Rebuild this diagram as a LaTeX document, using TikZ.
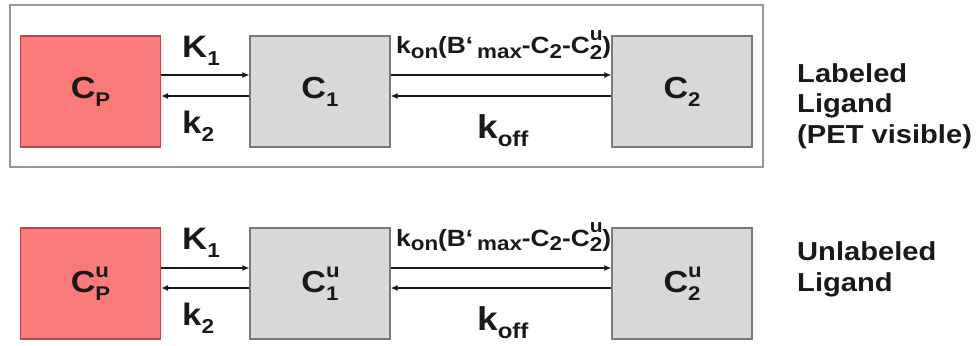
\documentclass[tikz,border=0pt]{standalone}
\usepackage{graphicx}
\usepackage{fontspec}
\setmainfont{Liberation Sans}[FakeStretch=1.12]
\usetikzlibrary{arrows.meta}
\newcommand\lo[1]{\raisebox{-0.5ex}{\scalebox{0.65}{#1}}}
\newcommand\ud[2]{\rlap{\raisebox{0.95ex}{\scalebox{0.65}{#1}}}\raisebox{-0.5ex}{\scalebox{0.65}{#2}}}
\newcommand\los[1]{\raisebox{-0.4ex}{\scalebox{0.85}{#1}}}
\newcommand\uds[2]{\rlap{\raisebox{1.1ex}{\scalebox{0.8}{#1}}}\raisebox{-0.45ex}{\scalebox{0.85}{#2}}}
\definecolor{pink}{RGB}{250,122,122}
\definecolor{pinkedge}{RGB}{190,70,70}
\definecolor{boxgray}{RGB}{216,216,216}
\definecolor{boxedge}{RGB}{120,120,120}
\definecolor{framegray}{RGB}{150,150,150}
\definecolor{ink}{RGB}{25,25,25}
\tikzset{
  comp/.style={draw=boxedge, fill=boxgray, line width=1.2pt, minimum width=140pt, minimum height=111pt, inner sep=0pt, font=\bfseries\fontsize{30.5}{34}\selectfont, text=ink},
  plasma/.style={comp, fill=pink, draw=pinkedge},
  arr/.style={draw=ink, line width=1.8pt, -{Latex[length=7pt,width=6pt]}},
  rate/.style={anchor=base west, inner sep=0pt, font=\bfseries\fontsize{31}{34}\selectfont, text=ink},
  ratebig/.style={rate, font=\bfseries\fontsize{33}{38}\selectfont},
  kon/.style={anchor=base west, inner sep=0pt, font=\bfseries\fontsize{23.5}{26}\selectfont, text=ink},
  side/.style={anchor=base west, inner sep=0pt, align=left, font=\bfseries\fontsize{26}{30.5}\selectfont, text=ink}
}
\begin{document}
\begin{tikzpicture}[x=1pt,y=-1pt]
\useasboundingbox (0,0) rectangle (976,345);
\fill[white] (0,0) rectangle (976,345);
% frame
\draw[framegray, line width=1.5pt] (10,5) rectangle (763,167);
% top row
\node[plasma] (cp) at (90.5,91.5) {C\lo{P}};
\node[comp] (c1) at (320,91.5) {C\lo{1}};
\node[comp] (c2) at (682,91.5) {C\lo{2}};
% bottom row
\node[plasma] (cpu) at (90.5,283.5) {C\ud{u}{P}};
\node[comp] (c1u) at (320,283.5) {C\ud{u}{1}};
\node[comp] (c2u) at (682,283.5) {C\ud{u}{2}};
% arrows top
\draw[arr] ([yshift=16.5pt]cp.east) -- ([yshift=16.5pt]c1.west);
\draw[arr] ([yshift=-4.5pt]c1.west) -- ([yshift=-4.5pt]cp.east);
\draw[arr] ([yshift=16.5pt]c1.east) -- ([yshift=16.5pt]c2.west);
\draw[arr] ([yshift=-4.5pt]c2.west) -- ([yshift=-4.5pt]c1.east);
% arrows bottom
\draw[arr] ([yshift=15.5pt]cpu.east) -- ([yshift=15.5pt]c1u.west);
\draw[arr] ([yshift=-4.5pt]c1u.west) -- ([yshift=-4.5pt]cpu.east);
\draw[arr] ([yshift=15.5pt]c1u.east) -- ([yshift=15.5pt]c2u.west);
\draw[arr] ([yshift=-4.5pt]c2u.west) -- ([yshift=-4.5pt]c1u.east);
% rate labels top
\node[rate] (K1a) at (182,57) {K\lo{1}};
\node[rate] (k2a) at (182,133) {k\lo{2}};
\node[kon] (kona) at (396,54) {k\los{on}(B‘\,\los{max}-C\los{2}-C\uds{u}{2})};
\node[ratebig] (koffa) at (477,138) {k\lo{off}};
% rate labels bottom
\node[rate] (K1b) at (182,249) {K\lo{1}};
\node[rate] (k2b) at (182,325) {k\lo{2}};
\node[kon] (konb) at (396,246) {k\los{on}(B‘\,\los{max}-C\los{2}-C\uds{u}{2})};
\node[ratebig] (koffb) at (477,330) {k\lo{off}};
% side labels
\node[side] (lab) at (797,143) {Labeled\\Ligand\\(PET visible)};
\node[side] (unlab) at (797,291) {Unlabeled\\Ligand};
\end{tikzpicture}
\end{document}
